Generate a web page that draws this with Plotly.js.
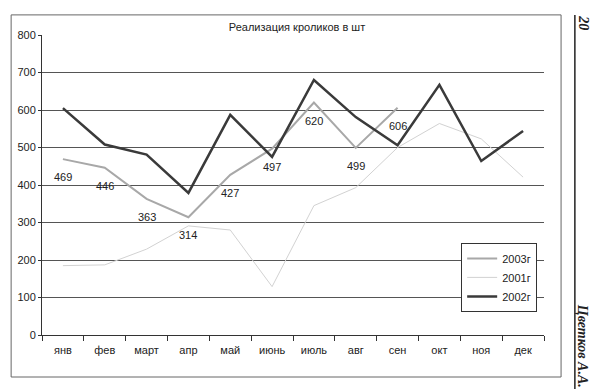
<!DOCTYPE html>
<html><head><meta charset="utf-8">
<script src="https://cdn.plot.ly/plotly-3.0.1.min.js"></script>
<style>html,body{margin:0;padding:0;background:#fff}</style>
</head><body>
<div id="chart" style="width:600px;height:390px"></div>
<script>
const months = ["янв","фев","март","апр","май","июнь","июль","авг","сен","окт","ноя","дек"];
const y2003 = [469,446,363,314,427,497,620,499,606,null,null,null];
const y2001 = [185,187,229,291,280,129,345,393,500,564,523,421];
const y2002 = [605,508,481,379,587,475,680,581,506,667,464,544];
const labels2003 = ["469","446","363","314","427","497","620","499","606"];

function mkFont(){ return {family:"Liberation Sans, Arial, sans-serif", size:11, color:"#222"}; }

const traces = [
  {name:"2003г", x:months, y:y2003, type:"scatter", mode:"lines", line:{color:"#a8a8a8", width:2}},
  {name:"2001г", x:months, y:y2001, type:"scatter", mode:"lines", line:{color:"#d2d2d2", width:1}},
  {name:"2002г", x:months, y:y2002, type:"scatter", mode:"lines", line:{color:"#3a3a3a", width:2.5}}
];

const annotations = labels2003.map((t,i)=>({
  x: months[i], y: y2003[i], xref:"x", yref:"y", text:t, showarrow:false,
  xanchor:"center", yanchor:"middle", yshift:-18, font:mkFont()
}));
annotations.push({xref:"paper", yref:"paper", x:1.077, y:1.04, xanchor:"center", yanchor:"middle",
  text:"<b><i>20</i></b>", showarrow:false, textangle:90,
  font:{family:"Liberation Serif, serif", size:14, color:"#222"}});
annotations.push({xref:"paper", yref:"paper", x:1.077, y:-0.035, xanchor:"center", yanchor:"middle",
  text:"<b><i>Цветков А.А.</i></b>", showarrow:false, textangle:90,
  font:{family:"Liberation Serif, serif", size:14, color:"#222"}});

const layout = {
  width:600, height:390,
  margin:{l:42, r:56, t:35, b:55},
  paper_bgcolor:"#fff", plot_bgcolor:"#fff",
  font:mkFont(),
  title:{text:"Реализация кроликов в шт", x:0.495, xanchor:"center", y:0.931, yanchor:"middle", font:mkFont()},
  xaxis:{type:"category", range:[-0.5, 11.5], showline:true, linecolor:"#333", linewidth:1, ticks:"outside",
    tickson:"boundaries", ticklen:5, tickcolor:"#333", showgrid:false, zeroline:false,
    ticklabelstandoff:5, tickfont:mkFont(), fixedrange:true},
  yaxis:{range:[0,800], dtick:100, showline:true, linecolor:"#333", linewidth:1,
    ticks:"outside", ticklen:3, tickcolor:"#333", gridcolor:"#555", gridwidth:1,
    zeroline:false, tickfont:mkFont(), fixedrange:true},
  legend:{x:0.835, y:0.307, xanchor:"left", yanchor:"top", bgcolor:"#fff",
    bordercolor:"#333", borderwidth:1, font:mkFont(), tracegroupgap:0},
  showlegend:true,
  shapes:[
    {type:"rect", xref:"paper", yref:"paper", x0:-0.0615, x1:1.034, y0:-0.14, y1:1.067,
     line:{color:"#666", width:1}},
    {type:"line", xref:"paper", yref:"paper", x0:1.0615, x1:1.0615, y0:-0.18, y1:1.067,
     line:{color:"#222", width:1.5}}
  ],
  annotations:annotations
};

Plotly.newPlot("chart", traces, layout, {displayModeBar:false, staticPlot:true});
</script>
</body></html>
